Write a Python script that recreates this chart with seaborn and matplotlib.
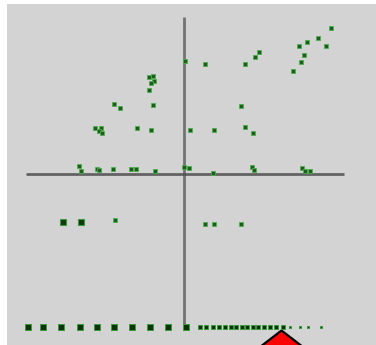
import matplotlib
matplotlib.use("Agg")
import matplotlib.pyplot as plt
import numpy as np
import pandas as pd
import seaborn as sns

# Scatter points (x, y) around the origin cross
pts_x = [14.7, 13.4, 12.3, 11.5, 14.2, 12.0, 11.7, 10.9, 7.5, 7.1, 6.1, 2.1, 0.1,
         5.7, 6.1, 6.9, 3.0, 0.6,
         -3.5, -3.1, -3.0, -3.3, -3.5, -7.0, -6.4, -3.1, -8.9, -8.3, -8.5, -8.2,
         -4.7, -3.3,
         -10.5, -10.3, -8.7, -8.5, -7.1, -5.3, -4.8, -2.9, 0.0, 0.5,
         2.9, 6.8, 7.0, 11.8, 12.1, 12.6,
         -6.9, 2.1, 3.0, 5.7]
pts_y = [14.6, 13.6, 13.2, 12.8, 12.8, 11.9, 11.2, 10.3, 12.2, 11.7, 11.0, 11.0, 11.3,
         6.8, 4.7, 4.1, 4.4, 4.4,
         9.7, 9.8, 9.3, 9.1, 8.4, 7.0, 6.6, 6.9, 4.6, 4.6, 4.3, 4.1,
         4.6, 4.4,
         0.8, 0.3, 0.5, 0.4, 0.5, 0.5, 0.5, 0.3, 0.7, 0.6,
         0.1, 0.7, 0.4, 0.6, 0.3, 0.3,
         -4.6, -5.0, -5.0, -5.0]

# Two heavier points
big_x = [-12.1, -10.3]
big_y = [-4.8, -4.8]

# Row of markers along the bottom edge
row_x = [-15.6, -14.1, -12.3, -10.4, -8.7, -7.0, -5.2, -3.4, -1.6, 0.2,
         1.6, 2.2, 2.9, 3.5, 4.1, 4.7, 5.2, 5.8, 6.3, 6.9, 7.4, 8.0, 8.6,
         9.2, 9.9, 10.6, 11.6, 12.4, 13.7]
row_size = [7, 7, 7, 7, 7, 6.5, 6, 6, 5.5, 5.5,
             5, 4.5, 4.5, 4.5, 4, 4, 4, 4, 4, 4, 4, 4, 3.5,
             3.5, 3.5, 3, 3, 3, 3]
row_y = -15.3

# Pointer
pointer_x = 9.7
pointer_y = -15.6

sns.set_style("white", {"axes.facecolor": "#d3d3d3"})

fig = plt.figure(figsize=(3.76, 3.45), dpi=100, facecolor="white")
ax = fig.add_axes([7 / 376, 0, 369 / 376, 341 / 345])
ax.set_facecolor("#d3d3d3")

# Origin cross
ax.plot([0, 0], [-15.1, 15.7], color="#5a5a5a", lw=2.0, alpha=0.8, zorder=1,
        solid_capstyle="butt")
ax.plot([-15.8, 16.0], [0, 0], color="#4f4f4f", lw=2.0, alpha=0.85, zorder=1,
        solid_capstyle="butt")

pts = pd.DataFrame({"x": pts_x, "y": pts_y})
sns.scatterplot(data=pts, x="x", y="y", ax=ax, marker="s", s=6,
                color="#1f5c1f", edgecolor="#4cae4c", linewidth=0.6, zorder=3)

big = pd.DataFrame({"x": big_x, "y": big_y})
sns.scatterplot(data=big, x="x", y="y", ax=ax, marker="s", s=24,
                color="#0f3a0f", edgecolor="#3c9a3c", linewidth=0.8, zorder=3)

row = pd.DataFrame({"x": row_x, "y": [row_y] * len(row_x),
                    "s": [v * v for v in row_size]})
ax.scatter(row["x"], row["y"], s=row["s"] * 0.5, marker="s",
           color="#0d330d", edgecolors="#3c9a3c", linewidths=0.7, zorder=3)

tri = [(0, 0), (-1.3, -1), (1.3, -1), (0, 0)]
ax.plot([pointer_x], [pointer_y], marker=tri, markersize=60,
        markerfacecolor="red", markeredgecolor="black", markeredgewidth=1.6,
        linestyle="none", zorder=4)

ax.set_xlim(-17.7, 19.2)
ax.set_ylim(-17.1, 17.0)
ax.set_xticks([])
ax.set_yticks([])
ax.set_xlabel("")
ax.set_ylabel("")
for sp in ax.spines.values():
    sp.set_visible(False)

fig.savefig("out.png", dpi=100, facecolor="white")
